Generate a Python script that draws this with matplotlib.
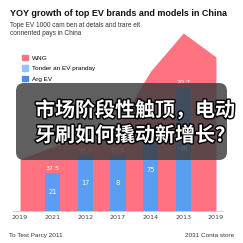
import matplotlib
matplotlib.use("Agg")
import matplotlib.pyplot as plt
import matplotlib.patheffects as pe
from matplotlib.patches import Patch, FancyBboxPatch

# ---- data ----
tick_labels = ["2019", "2021", "2012", "2017", "2014", "2013", "2019"]
wng_values = [52, 64, 75, 86, 140, 178, 154]          # red area
bar_positions = [1, 2, 3, 4, 5]
arg_values = [38, 56, 56, 82, 124]                    # blue bars
inside_labels = ["21", "17", "8", "75", "88"]
top_labels = ["37.5", "44.7", "27.3", "", "20.7"]
legend_labels = ["WNG", "Tonder an EV pranday", "Arg EV"]

title = "YOY growth of top EV brands and models in China"
subtitle = "Tope EV 1000 cam ben at detals and trare elt\nconnented pays in China"
footer_left = "To Test Parcy 2011"
footer_right = "2031 Conta store"
overlay_lines = ["市场阶段性触顶，电动", "牙刷如何撬动新增长？"]

RED = "#FF7380"
BLUE = "#5B9DF3"
LIGHT_BLUE = "#95C2F7"
DARK_BLUE = "#4A8DE6"

W = 243
fig = plt.figure(figsize=(2.43, 2.43), dpi=100)
fig.patch.set_facecolor("white")

ax = fig.add_axes([13.5 / W, 32 / W, 209 / W, 191 / W])
xs = list(range(len(tick_labels)))
ax.fill_between(xs, wng_values, 0, color=RED, linewidth=0, zorder=1)
ax.bar(bar_positions, arg_values, width=0.46, color=BLUE, zorder=2)

for x, v, lab in zip(bar_positions, arg_values, inside_labels):
    ax.text(x, v / 2, lab, ha="center", va="center", fontsize=4.8,
            color="white", zorder=3)
for x, v, lab in zip(bar_positions, arg_values, top_labels):
    if lab:
        ax.annotate(lab, (x, v), xytext=(0, 1.5), textcoords="offset points",
                    ha="center", va="bottom", fontsize=4.6, color="white",
                    zorder=3)

ax.set_xlim(-0.2, 6.2)
ax.set_ylim(0, 191)
ax.set_xticks(xs)
ax.set_xticklabels(tick_labels, fontsize=4.6, color="#444444")
ax.tick_params(axis="x", length=0, pad=3)
ax.set_yticks([])
for s in ["left", "right", "top"]:
    ax.spines[s].set_visible(False)
ax.spines["bottom"].set_color("#cccccc")
ax.spines["bottom"].set_linewidth(0.6)
ax.set_facecolor("none")

# titles
fig.text(10 / W, 1 - 14 / W, title, fontsize=6.5, fontweight="bold",
         family="Liberation Sans", color="#111111", va="center", ha="left")
fig.text(10 / W, 1 - 29.5 / W, subtitle, fontsize=4.7, family="Liberation Sans",
         color="#333333", va="center", ha="left", linespacing=1.3)

# legend
handles = [Patch(color=RED), Patch(color=LIGHT_BLUE), Patch(color=DARK_BLUE)]
fig.legend(handles, legend_labels, loc="upper left",
           bbox_to_anchor=(19 / W, 1 - 51.5 / W), frameon=False,
           handlelength=0.9, handleheight=0.9,
           handletextpad=0.6, labelspacing=0.75, borderpad=0,
           prop={"family": "Liberation Sans", "size": 4.6})

# footer
fig.text(9 / W, 1 - 235 / W, footer_left, fontsize=4.6, family="Liberation Sans",
         color="#333333", va="center", ha="left")
fig.text(234 / W, 1 - 235 / W, footer_right, fontsize=4.6,
         family="Liberation Sans", color="#333333", va="center", ha="right")

# overlay card
box = FancyBboxPatch((16 / W, (W - 160) / W), 211 / W, 77 / W,
                     boxstyle="round,pad=0,rounding_size=0.033",
                     transform=fig.transFigure, facecolor="#3c3c3c",
                     edgecolor="none", alpha=0.82, zorder=10)
fig.add_artist(box)
for i, line in enumerate(overlay_lines):
    fig.text(35 / W, 1 - (110 + 25 * i) / W, line, fontsize=14.4,
             fontweight="bold", family=["Noto Sans CJK SC", "DejaVu Sans"],
             color="white", va="center", ha="left", zorder=11,
             path_effects=[pe.withStroke(linewidth=2, foreground="black")])

fig.savefig("out.png", dpi=100)
